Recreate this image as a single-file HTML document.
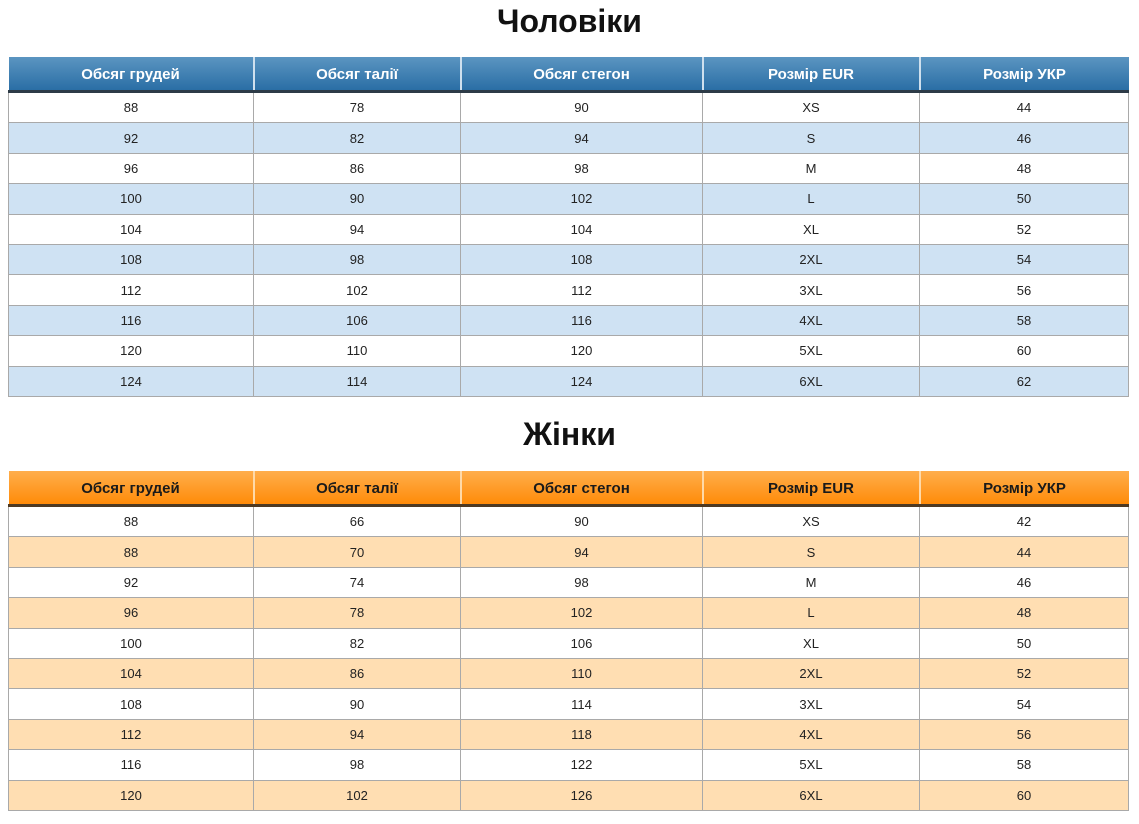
<!DOCTYPE html>
<html>
<head>
<meta charset="utf-8">
<style>
  html, body { margin:0; padding:0; background:#fff; }
  body { width:1139px; height:824px; position:relative; overflow:hidden;
         font-family:"Liberation Sans", Arial, sans-serif; }
  .title { position:absolute; left:0; width:1139px; text-align:center;
           font-size:32px; font-weight:bold; line-height:33px; color:#111; }
  table { position:absolute; left:8px; width:1120px; border-collapse:collapse;
          table-layout:fixed; font-size:13px; }
  th { height:31px; padding:2px 0 0 0; font-weight:bold; text-align:center; font-size:15px;
       border-left:2px solid #cfe0ee; border-right:2px solid #cfe0ee; }
  th:first-child { border-left:none; }
  th:last-child { border-right:none; }
  td { height:29.4px; padding:0; text-align:center; color:#222;
       border:1px solid #a9a9a9; }
  .blue th { color:#fff; background:linear-gradient(#5b95c1, #2a6ea5);
             border-bottom:3px solid #2d3b47; }
  .blue tr:nth-child(even) td { background:#cfe2f3; }
  .orange th { color:#1a1a1a; background:linear-gradient(#ffae4c, #ff8b08);
               border-bottom:3px solid #4e3a23; border-left-color:#ffd9a8; border-right-color:#ffd9a8; }
  .orange tr:nth-child(even) td { background:#ffdeb2; }
</style>
</head>
<body>
<div class="title" style="top:5px;">Чоловіки</div>
<table class="blue" style="top:57px;">
  <colgroup><col style="width:245px"><col style="width:207px"><col style="width:242px"><col style="width:217px"><col style="width:209px"></colgroup>
  <thead><tr><th>Обсяг грудей</th><th>Обсяг талії</th><th>Обсяг стегон</th><th>Розмір EUR</th><th>Розмір УКР</th></tr></thead>
  <tbody>
    <tr><td>88</td><td>78</td><td>90</td><td>XS</td><td>44</td></tr>
    <tr><td>92</td><td>82</td><td>94</td><td>S</td><td>46</td></tr>
    <tr><td>96</td><td>86</td><td>98</td><td>M</td><td>48</td></tr>
    <tr><td>100</td><td>90</td><td>102</td><td>L</td><td>50</td></tr>
    <tr><td>104</td><td>94</td><td>104</td><td>XL</td><td>52</td></tr>
    <tr><td>108</td><td>98</td><td>108</td><td>2XL</td><td>54</td></tr>
    <tr><td>112</td><td>102</td><td>112</td><td>3XL</td><td>56</td></tr>
    <tr><td>116</td><td>106</td><td>116</td><td>4XL</td><td>58</td></tr>
    <tr><td>120</td><td>110</td><td>120</td><td>5XL</td><td>60</td></tr>
    <tr><td>124</td><td>114</td><td>124</td><td>6XL</td><td>62</td></tr>
  </tbody>
</table>

<div class="title" style="top:418px;">Жінки</div>
<table class="orange" style="top:471px;">
  <colgroup><col style="width:245px"><col style="width:207px"><col style="width:242px"><col style="width:217px"><col style="width:209px"></colgroup>
  <thead><tr><th>Обсяг грудей</th><th>Обсяг талії</th><th>Обсяг стегон</th><th>Розмір EUR</th><th>Розмір УКР</th></tr></thead>
  <tbody>
    <tr><td>88</td><td>66</td><td>90</td><td>XS</td><td>42</td></tr>
    <tr><td>88</td><td>70</td><td>94</td><td>S</td><td>44</td></tr>
    <tr><td>92</td><td>74</td><td>98</td><td>M</td><td>46</td></tr>
    <tr><td>96</td><td>78</td><td>102</td><td>L</td><td>48</td></tr>
    <tr><td>100</td><td>82</td><td>106</td><td>XL</td><td>50</td></tr>
    <tr><td>104</td><td>86</td><td>110</td><td>2XL</td><td>52</td></tr>
    <tr><td>108</td><td>90</td><td>114</td><td>3XL</td><td>54</td></tr>
    <tr><td>112</td><td>94</td><td>118</td><td>4XL</td><td>56</td></tr>
    <tr><td>116</td><td>98</td><td>122</td><td>5XL</td><td>58</td></tr>
    <tr><td>120</td><td>102</td><td>126</td><td>6XL</td><td>60</td></tr>
  </tbody>
</table>
</body>
</html>
